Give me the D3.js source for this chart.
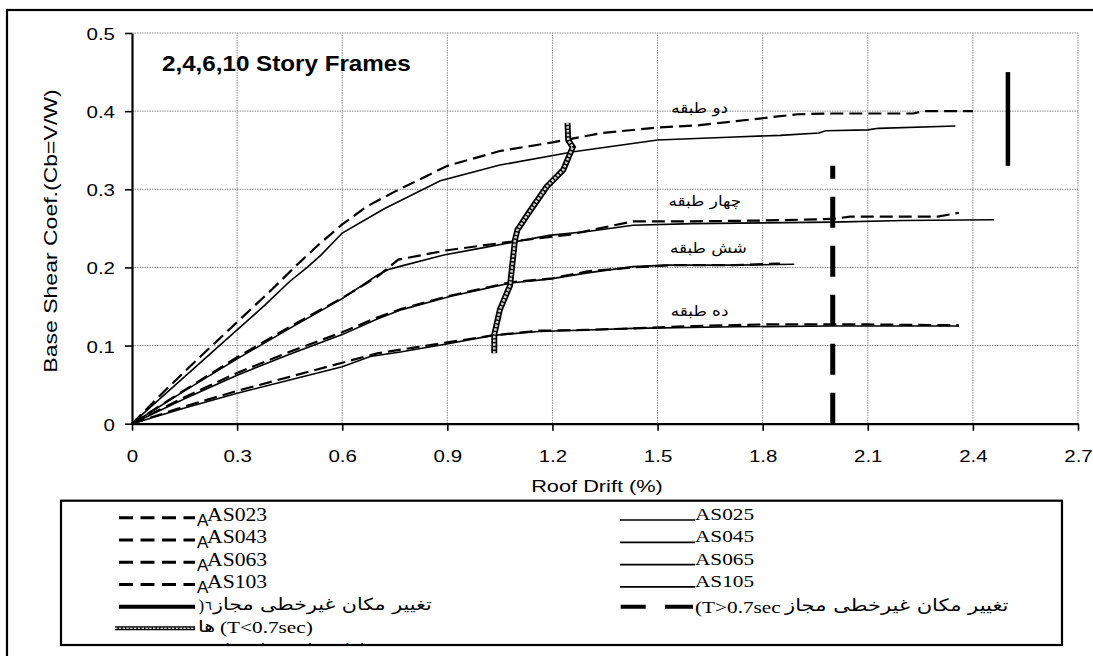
<!DOCTYPE html>
<html>
<head>
<meta charset="utf-8">
<script src="https://cdn.jsdelivr.net/npm/d3@7"></script>
<style>
  body { margin: 0; background: #fff; }
  svg { display: block; }
</style>
</head>
<body>
<svg id="chart" width="1093" height="656"></svg>
<script>
// Axis ticks
const driftTicks = [0, 0.3, 0.6, 0.9, 1.2, 1.5, 1.8, 2.1, 2.4, 2.7];
const coefTicks = [0, 0.1, 0.2, 0.3, 0.4, 0.5];

// Pushover curves: [roof drift %, base shear coefficient]
const as023 = [[0,0],[0.1,0.045],[0.2,0.088],[0.3,0.13],[0.4,0.172],[0.47,0.203],[0.53,0.228],[0.6,0.255],[0.67,0.278],[0.75,0.297],[0.9,0.33],[1.05,0.349],[1.2,0.36],[1.34,0.372],[1.5,0.379],[1.62,0.382],[1.72,0.387],[1.9,0.396],[2.0,0.397],[2.23,0.397],[2.26,0.4],[2.4,0.4]];
const as025 = [[0,0],[0.1,0.04],[0.2,0.08],[0.3,0.12],[0.38,0.152],[0.45,0.182],[0.5,0.2],[0.54,0.216],[0.6,0.244],[0.72,0.275],[0.88,0.311],[1.05,0.331],[1.26,0.348],[1.5,0.363],[1.72,0.367],[1.85,0.369],[1.96,0.372],[1.98,0.375],[2.1,0.376],[2.13,0.378],[2.35,0.381]];
const as043 = [[0,0],[0.15,0.043],[0.3,0.085],[0.45,0.124],[0.6,0.161],[0.7,0.188],[0.76,0.21],[0.9,0.222],[1.1,0.234],[1.25,0.242],[1.43,0.259],[1.6,0.259],[1.8,0.26],[2.0,0.262],[2.05,0.265],[2.3,0.265],[2.36,0.27]];
const as045 = [[0,0],[0.15,0.042],[0.3,0.083],[0.45,0.122],[0.6,0.16],[0.7,0.19],[0.73,0.197],[0.77,0.202],[0.89,0.216],[1.0,0.225],[1.19,0.241],[1.3,0.246],[1.43,0.254],[1.6,0.256],[1.8,0.257],[2.0,0.258],[2.2,0.26],[2.46,0.261]];
const as063 = [[0,0],[0.15,0.034],[0.3,0.065],[0.45,0.092],[0.6,0.117],[0.7,0.136],[0.77,0.147],[0.9,0.163],[1.08,0.181],[1.2,0.186],[1.3,0.195],[1.43,0.2],[1.55,0.203],[1.72,0.203],[1.85,0.205]];
const as065 = [[0,0],[0.15,0.032],[0.3,0.062],[0.45,0.089],[0.6,0.114],[0.7,0.134],[0.77,0.146],[0.91,0.163],[1.08,0.18],[1.19,0.185],[1.3,0.193],[1.43,0.201],[1.53,0.203],[1.72,0.203],[1.89,0.204]];
const as103 = [[0,0],[0.15,0.022],[0.3,0.042],[0.45,0.06],[0.6,0.078],[0.7,0.09],[0.8,0.097],[0.9,0.104],[1.03,0.113],[1.16,0.119],[1.3,0.12],[1.43,0.122],[1.6,0.125],[1.8,0.127],[2.1,0.127],[2.36,0.126]];
const as105 = [[0,0],[0.15,0.02],[0.3,0.039],[0.45,0.056],[0.6,0.073],[0.68,0.086],[0.77,0.092],[0.91,0.103],[1.03,0.113],[1.16,0.118],[1.3,0.12],[1.43,0.122],[1.72,0.124],[2.0,0.125],[2.36,0.125]];

// Allowable nonlinear drift limits and the T<0.7sec yield trace
const limitShort = [[1.034,0.09],[1.034,0.114],[1.05,0.146],[1.079,0.177],[1.093,0.235],[1.1,0.248],[1.131,0.269],[1.183,0.303],[1.231,0.325],[1.258,0.354],[1.245,0.363],[1.243,0.385]];
const limitLongSec = [[2.0,0],[2.0,0.33]];
const limitLongSolid = [[2.5,0.33],[2.5,0.45]];

// Curve labels
const storyNames = ["دو طبقه", "چهار طبقه", "شش طبقه", "ده طبقه"];
const storyLabelDrift = [1.62, 1.635, 1.645, 1.62];
const storyLabelCoef = [0.398, 0.2785, 0.218, 0.138];

const legendDashed = ["AS023", "AS043", "AS063", "AS103"];
const legendSolid = ["AS025", "AS045", "AS065", "AS105"];
const driftLabel = "تغییر مکان غیرخطی مجاز";

const svg = d3.select("#chart");
const SANS = "'Liberation Sans', Arial, sans-serif";
const SERIF = "'Liberation Serif', 'Times New Roman', serif";
const FA = "'DejaVu Sans', sans-serif";
const WIDE = 1.28;

const x = d3.scaleLinear().domain([0, 2.7]).range([132, 1078]);
const y = d3.scaleLinear().domain([0, 0.5]).range([423.7, 33]);

// Outer frame
svg.append("rect").attr("x", 7).attr("y", 10).attr("width", 1100).attr("height", 700)
  .attr("fill", "none").attr("stroke", "#000").attr("stroke-width", 2.2);

// Grid
const grid = svg.append("g").attr("stroke", "#8a8a8a").attr("stroke-width", 1).attr("stroke-dasharray", "1.5,1");
grid.selectAll("line.v").data(driftTicks.slice(1)).join("line")
  .attr("x1", d => x(d)).attr("x2", d => x(d)).attr("y1", y(0)).attr("y2", y(0.5));
grid.selectAll("line.h").data(coefTicks.slice(1)).join("line")
  .attr("x1", x(0)).attr("x2", x(2.7)).attr("y1", d => y(d)).attr("y2", d => y(d));

// Axes
const xAxis = svg.append("g").attr("transform", `translate(0,${y(0)})`)
  .call(d3.axisBottom(x).tickValues(driftTicks).tickFormat(d3.format("")).tickSize(7).tickSizeOuter(0));
const yAxis = svg.append("g").attr("transform", `translate(${x(0)},0)`)
  .call(d3.axisLeft(y).tickValues(coefTicks).tickFormat(d3.format("")).tickSize(7).tickSizeOuter(0));
[xAxis, yAxis].forEach(g => {
  g.select(".domain").attr("stroke", "#000").attr("stroke-width", 2.2);
  g.selectAll(".tick line").attr("stroke", "#000").attr("stroke-width", 1.6);
  g.selectAll(".tick text").attr("fill", "#000").style("font-family", SANS).style("font-size", "16px");
});
xAxis.selectAll(".tick text").attr("y", 38).attr("dy", 0).attr("transform", `scale(${WIDE},1)`);
yAxis.selectAll(".tick text").attr("x", -17 / WIDE).attr("dy", 0).attr("y", 6.5).attr("transform", `scale(${WIDE},1)`);

// Text stretched along its reading direction
function wideText(parent, px, py, str, opts) {
  const g = parent.append("g").attr("transform", `translate(${px},${py})${opts.rotate ? " rotate(" + opts.rotate + ")" : ""} scale(${opts.sx || WIDE},1)`);
  return g.append("text").text(str)
    .attr("text-anchor", opts.anchor || "start")
    .attr("direction", "ltr")
    .style("font-family", opts.family || SANS)
    .style("font-size", opts.size + "px")
    .style("font-weight", opts.weight || "normal")
    .attr("fill", "#000");
}

// Axis titles and heading
wideText(svg, 597, 492, "Roof Drift (%)", { size: 17, anchor: "middle" });
wideText(svg, 57, 231, "Base Shear Coef.(Cb=V/W)", { size: 18, anchor: "middle", rotate: -90 });
wideText(svg, 162, 71, "2,4,6,10 Story Frames", { size: 22, weight: "bold", sx: 1.1 });

// Curves
const line = d3.line().x(d => x(d[0])).y(d => y(d[1]));
const plot = svg.append("g").attr("fill", "none").attr("stroke", "#000");
[as025, as045, as065, as105].forEach(s => {
  plot.append("path").attr("d", line(s)).attr("stroke-width", 1.6);
});
[as023, as043, as063, as103].forEach(s => {
  plot.append("path").attr("d", line(s)).attr("stroke-width", 2.2).attr("stroke-dasharray", "13,6");
});

// Drift limits
plot.append("path").attr("d", line(limitLongSec)).attr("stroke-width", 5).attr("stroke-dasharray", "31,18");
plot.append("path").attr("d", line(limitLongSolid)).attr("stroke-width", 4.5);
plot.append("path").attr("d", line(limitShort)).attr("stroke-width", 6);
plot.append("path").attr("d", line(limitShort)).attr("stroke", "#cfcfcf").attr("stroke-width", 2.6).attr("stroke-dasharray", "2.4,1.4");

// Story labels
storyNames.forEach((name, i) => {
  wideText(svg, x(storyLabelDrift[i]), y(storyLabelCoef[i]), name,
    { size: 15, anchor: "middle", family: FA, sx: 1.12 });
});

// Legend
svg.append("clipPath").attr("id", "legclip").append("rect")
  .attr("x", 61).attr("y", 500.7).attr("width", 1001).attr("height", 144.3);
svg.append("rect").attr("x", 61).attr("y", 500.7).attr("width", 1001).attr("height", 144.3)
  .attr("fill", "#fff").attr("stroke", "#000").attr("stroke-width", 2.2);
const leg = svg.append("g").attr("clip-path", "url(#legclip)");
const rowY = i => 517.7 + i * 22.3;

legendDashed.forEach((name, i) => {
  leg.append("line").attr("x1", 119).attr("x2", 195).attr("y1", rowY(i)).attr("y2", rowY(i))
    .attr("stroke", "#000").attr("stroke-width", 3).attr("stroke-dasharray", "14,7.5");
  leg.append("text").attr("x", 197).attr("y", rowY(i) + 8.3).text("A")
    .style("font-family", SANS).style("font-size", "17px");
  wideText(leg, 207, rowY(i) + 3.3, name, { size: 19, family: SERIF, sx: 1.14 });
});
legendSolid.forEach((name, i) => {
  const yy = rowY(i) + 2.3;
  leg.append("line").attr("x1", 620).attr("x2", 695).attr("y1", yy).attr("y2", yy)
    .attr("stroke", "#000").attr("stroke-width", 1.7);
  wideText(leg, 695, yy, name, { size: 17, family: SERIF, sx: 1.25 });
});

// Legend: long-period drift limit
leg.append("line").attr("x1", 620.7).attr("x2", 693).attr("y1", 606.7).attr("y2", 606.7)
  .attr("stroke", "#000").attr("stroke-width", 4).attr("stroke-dasharray", "25,19.3,28");
wideText(leg, 695, 613, "(T>0.7sec", { size: 17, family: SERIF, sx: 1.25 });
wideText(leg, 785, 611, driftLabel, { size: 17, family: FA, sx: 1.24 });

// Legend: short-period drift limit
leg.append("line").attr("x1", 119).attr("x2", 195).attr("y1", 606.7).attr("y2", 606.7)
  .attr("stroke", "#000").attr("stroke-width", 4);
leg.append("text").attr("x", 198.5).attr("y", 611).text(")")
  .style("font-family", SERIF).style("font-size", "17px");
leg.append("text").attr("x", 205).attr("y", 610).text("٦")
  .style("font-family", FA).style("font-size", "13px");
wideText(leg, 213, 609.5, driftLabel, { size: 16.5, family: FA, sx: 1.25 });

// Legend: yield trace
leg.append("line").attr("x1", 115).attr("x2", 195).attr("y1", 628.3).attr("y2", 628.3)
  .attr("stroke", "#000").attr("stroke-width", 4);
leg.append("line").attr("x1", 115).attr("x2", 195).attr("y1", 628.3).attr("y2", 628.3)
  .attr("stroke", "#d0d0d0").attr("stroke-width", 1.6).attr("stroke-dasharray", "2.4,1.4");
wideText(leg, 198, 632, "ها", { size: 16, family: FA, sx: 1.3 });
wideText(leg, 220, 633, "(T<0.7sec)", { size: 17, family: SERIF, sx: 1.25 });
wideText(leg, 225, 655, "نقاط تسلیم سازه‌ها", { size: 16, family: FA, sx: 1.2 });
</script>
</body>
</html>
